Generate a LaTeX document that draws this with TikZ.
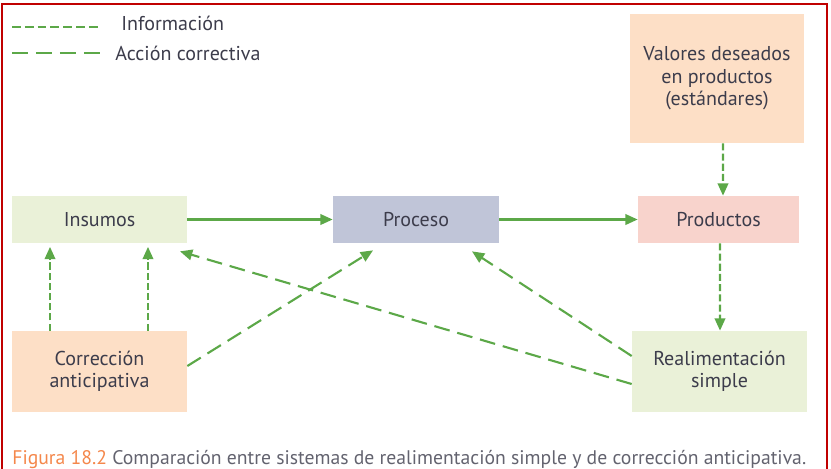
\documentclass[tikz,border=0pt]{standalone}
\usepackage{fontspec}
\setmainfont{PT Sans}
\usetikzlibrary{arrows.meta}

\definecolor{verde}{RGB}{92,168,72}
\definecolor{rojo}{RGB}{192,0,0}
\definecolor{texto}{RGB}{60,60,75}
\definecolor{durazno}{RGB}{253,223,198}
\definecolor{verdeclaro}{RGB}{234,241,216}
\definecolor{lila}{RGB}{192,197,216}
\definecolor{rosa}{RGB}{248,211,204}
\definecolor{naranja}{RGB}{244,135,75}

\begin{document}
\begin{tikzpicture}[x=0.02cm, y=-0.02cm,
        caja/.style={inner sep=0, text=texto, font=\fontsize{11.4}{12.8}\selectfont, align=center},
        flujo/.style={verde, line width=1.2pt, -{Triangle[length=7pt,width=6pt]}},
        info/.style={verde, line width=1.2pt, dash pattern=on 4pt off 1.8pt, -{Triangle[length=7pt,width=6pt]}},
        accion/.style={verde, line width=1.2pt, dash pattern=on 9pt off 4.5pt, -{Triangle[length=7pt,width=6pt]}}]
    \useasboundingbox (0,0) rectangle (831,468);

    \draw[rojo, line width=1.4pt] (2,470) -- (2,4) -- (827,4) -- (827,470); %marco

    % leyenda
    \draw[verde, line width=1.2pt, dash pattern=on 5pt off 2.3pt] (12,27) -- (100,27);
    \node[caja, anchor=west] (leyinfo) at (121,23) {Información};
    \draw[verde, line width=1.2pt, dash pattern=on 9.1pt off 4.55pt] (12,53) -- (100,53);
    \node[caja, anchor=west] (leyaccion) at (115,53) {Acción correctiva};

    % cajas
    \node[caja, fill=durazno, minimum width=3.48cm, minimum height=2.58cm] (valores) at (717,78.5) {Valores deseados\\en productos\\(estándares)};
    \node[caja, fill=verdeclaro, minimum width=3.5cm, minimum height=0.94cm] (insumos) at (99.5,219.5) {Insumos};
    \node[caja, fill=lila, minimum width=3.32cm, minimum height=0.94cm] (proceso) at (416,219.5) {Proceso};
    \node[caja, fill=rosa, minimum width=3.22cm, minimum height=0.94cm] (productos) at (718.5,219.5) {Productos};
    \node[caja, fill=verdeclaro, minimum width=3.5cm, minimum height=1.62cm] (realim) at (719.5,371.5) {Realimentación\\simple};
    \node[caja, fill=durazno, minimum width=3.5cm, minimum height=1.62cm] (correc) at (99.5,371.5) {Corrección\\anticipativa};

    % flujo principal
    \draw[flujo] (insumos.east) -- (proceso.west);
    \draw[flujo] (proceso.east) -- (productos.west);

    % informacion
    \draw[info] ([xshift=0.12cm]valores.south) -- ([xshift=0.09cm]productos.north);
    \draw[info] ([xshift=0.03cm]productos.south) -- ([xshift=0.01cm]realim.north);
    \draw[info, shorten >=2pt] ([xshift=-0.99cm]correc.north) -- ([xshift=-0.99cm]insumos.south);
    \draw[info, shorten >=2pt] ([xshift=0.97cm]correc.north) -- ([xshift=0.97cm]insumos.south);

    % accion correctiva
    \draw[accion] ([yshift=0.11cm]correc.east) -- ([xshift=-0.86cm,yshift=-0.14cm]proceso.south);
    \draw[accion] ([yshift=0.31cm]realim.west) -- ([xshift=1.12cm,yshift=-0.16cm]proceso.south);
    \draw[accion] ([yshift=-0.25cm]realim.west) -- ([xshift=1.61cm,yshift=-0.16cm]insumos.south);

    \node[anchor=west, inner sep=0, font=\fontsize{11.2}{13}\selectfont, text=texto!80] (pie) at (12,459) {\textcolor{naranja}{Figura 18.2} Comparación entre sistemas de realimentación simple y de corrección anticipativa.};
\end{tikzpicture}
\end{document}
